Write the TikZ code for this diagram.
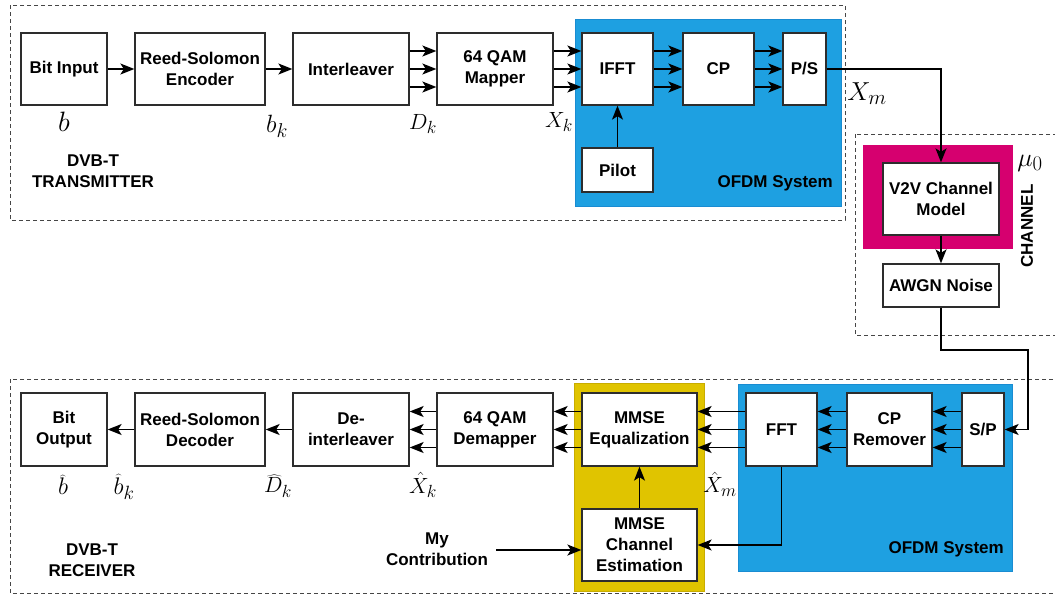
\RequirePackage{fix-cm}
\documentclass[tikz,border=0pt]{standalone}
\usepackage{fontspec}
\setmainfont{Liberation Sans}
\usetikzlibrary{arrows.meta}
\DeclareMathSizes{22}{22}{17.6}{13}
\DeclareMathSizes{24}{24}{19.2}{14}
\DeclareMathSizes{25}{25}{20}{15}
\DeclareMathSizes{26}{26}{20.8}{15}
\DeclareMathSizes{28}{28}{22.4}{16}
\definecolor{ofdmblue}{RGB}{30,160,225}
\definecolor{ofdmedge}{RGB}{25,140,210}
\definecolor{chanmag}{RGB}{214,0,111}
\definecolor{contribyel}{RGB}{224,196,0}
\definecolor{contribedge}{RGB}{200,172,0}
\definecolor{boxgray}{RGB}{45,45,45}
\definecolor{dashgray}{RGB}{70,70,70}
\begin{document}
\begin{tikzpicture}[x=1pt,y=-1pt,
  blk/.style={draw=boxgray, fill=white, line width=1.3pt, inner sep=0pt, align=center,
    font=\fontsize{17}{21}\selectfont\bfseries},
  lbl/.style={inner sep=0pt, align=center, font=\fontsize{17}{21}\selectfont\bfseries},
  arr/.style={-{Stealth[length=14pt,width=11pt,inset=3.5pt]}, line width=1.5pt, draw=black},
  dbox/.style={draw=dashgray, line width=1pt, dash pattern=on 4pt off 3pt},
  mlbl/.style={inner sep=0pt}]
\useasboundingbox (0,0) rectangle (1055,595);
\clip (0,0) rectangle (1055,595);

% group frames
\draw[dbox] (10,5) rectangle (845,220);
\draw[dbox] (855,134) rectangle (1070,335);
\draw[dbox] (10,379) rectangle (1070,593);
\fill[ofdmblue, draw=ofdmedge, line width=0.8pt] (575,19) rectangle (841,206);
\fill[chanmag] (863,145) rectangle (1013,249);
\fill[contribyel, draw=contribedge, line width=0.8pt] (574,383) rectangle (704,591);
\fill[ofdmblue, draw=ofdmedge, line width=0.8pt] (738,384) rectangle (1012,571);

% transmitter
\node[blk, minimum width=86pt, minimum height=72pt] (bitin) at (64,69) {Bit Input};
\node[blk, minimum width=130pt, minimum height=72pt] (rsenc) at (200,69) {Reed-Solomon\\Encoder};
\node[blk, minimum width=116pt, minimum height=72pt] (intl) at (351,69) {Interleaver};
\node[blk, minimum width=116pt, minimum height=72pt] (mapper) at (495,69) {64 QAM\\Mapper};
\node[blk, minimum width=71pt, minimum height=72pt] (ifft) at (617.5,69) {IFFT};
\node[blk, minimum width=71pt, minimum height=72pt] (cp) at (718.5,69) {CP};
\node[blk, minimum width=43pt, minimum height=72pt] (ps) at (804.5,69) {P/S};
\node[blk, minimum width=71pt, minimum height=44pt] (pilot) at (617.5,170) {Pilot};
\node[lbl, anchor=east] (ofdmtx) at (833,183) {OFDM System};
\node[lbl] (txname) at (93,171) {DVB-T\\TRANSMITTER};

% channel
\node[blk, minimum width=116pt, minimum height=72pt] (v2v) at (941,199) {V2V Channel\\Model};
\node[blk, minimum width=116pt, minimum height=43pt] (awgn) at (941,285.5) {AWGN Noise};
\node[lbl, rotate=90] (chname) at (1027,226) {CHANNEL};

% receiver
\node[blk, minimum width=86pt, minimum height=73pt] (bitout) at (64,429.5) {Bit\\Output};
\node[blk, minimum width=130pt, minimum height=73pt] (rsdec) at (200,429.5) {Reed-Solomon\\Decoder};
\node[blk, minimum width=116pt, minimum height=73pt] (deint) at (351,429.5) {De-\\interleaver};
\node[blk, minimum width=116pt, minimum height=73pt] (demap) at (495,429.5) {64 QAM\\Demapper};
\node[blk, minimum width=115pt, minimum height=73pt] (mmseeq) at (639.5,429.5) {MMSE\\Equalization};
\node[blk, minimum width=115pt, minimum height=72pt] (mmsece) at (639.5,545) {MMSE\\Channel\\Estimation};
\node[blk, minimum width=71pt, minimum height=73pt] (fft) at (781.5,429.5) {FFT};
\node[blk, minimum width=85pt, minimum height=73pt] (cprem) at (889.5,429.5) {CP\\Remover};
\node[blk, minimum width=42pt, minimum height=73pt] (sp) at (983,429.5) {S/P};
\node[lbl, anchor=east] (ofdmrx) at (1004,549) {OFDM System};
\node[lbl] (rxname) at (92,560) {DVB-T\\RECEIVER};
\node[lbl] (contrib) at (437,549) {My\\Contribution};

% math labels
\node[mlbl, font=\fontsize{28}{28}\selectfont] (lb) at (64,122) {$b$};
\node[mlbl, font=\fontsize{25}{25}\selectfont] (lbk) at (277,126) {$b_k$};
\node[mlbl, font=\fontsize{22}{22}\selectfont] (ldk) at (423,124) {$D_k$};
\node[mlbl, font=\fontsize{22}{22}\selectfont] (lxk) at (559,122) {$X_k$};
\node[mlbl, font=\fontsize{26}{26}\selectfont] (lxm) at (867,94) {$X_m$};
\node[mlbl, font=\fontsize{26}{26}\selectfont] (lmu) at (1030,163) {$\mu_0$};
\node[mlbl, font=\fontsize{24}{24}\selectfont] (lhb) at (63,485) {$\widehat{b}$};
\node[mlbl, font=\fontsize{24}{24}\selectfont] (lhbk) at (124,487) {$\widehat{b}_k$};
\node[mlbl, font=\fontsize{22}{22}\selectfont] (lhdk) at (278,486) {$\widehat{D}_k$};
\node[mlbl, font=\fontsize{22}{22}\selectfont] (lhxk) at (423,485) {$\hat{X}_k$};
\node[mlbl, font=\fontsize{22}{22}\selectfont] (lhxm) at (720,484) {$\hat{X}_m$};

% transmitter connectors
\draw[arr] (bitin) -- (rsenc);
\draw[arr] (rsenc) -- (intl);
\foreach \s in {18pt,0pt,-18pt}{
  \draw[arr] ([yshift=\s]intl.east) -- ([yshift=\s]mapper.west);
  \draw[arr] ([yshift=\s]mapper.east) -- ([yshift=\s]ifft.west);
  \draw[arr] ([yshift=\s]ifft.east) -- ([yshift=\s]cp.west);
  \draw[arr] ([yshift=\s]cp.east) -- ([yshift=\s]ps.west);
}
\draw[arr] (pilot) -- (ifft);
\draw[arr] (ps.east) -| (v2v.north);

% channel connectors
\draw[arr] (v2v) -- (awgn);
\coordinate (turn) at (1028,350);
\draw[arr] (awgn.south) |- (turn) |- (sp.east);

% receiver connectors
\foreach \s in {18pt,0pt,-18pt}{
  \draw[arr] ([yshift=\s]sp.west) -- ([yshift=\s]cprem.east);
  \draw[arr] ([yshift=\s]cprem.west) -- ([yshift=\s]fft.east);
  \draw[arr] ([yshift=\s]fft.west) -- ([yshift=\s]mmseeq.east);
  \draw[arr] ([yshift=\s]mmseeq.west) -- ([yshift=\s]demap.east);
  \draw[arr] ([yshift=\s]demap.west) -- ([yshift=\s]deint.east);
}
\draw[arr] (deint) -- (rsdec);
\draw[arr] (rsdec) -- (bitout);
\draw[arr] (fft.south) |- (mmsece.east);
\draw[arr] (mmsece) -- (mmseeq);
\coordinate (cstart) at (496,550);
\draw[arr] (cstart) -- (mmsece.west |- cstart);
\end{tikzpicture}
\end{document}
